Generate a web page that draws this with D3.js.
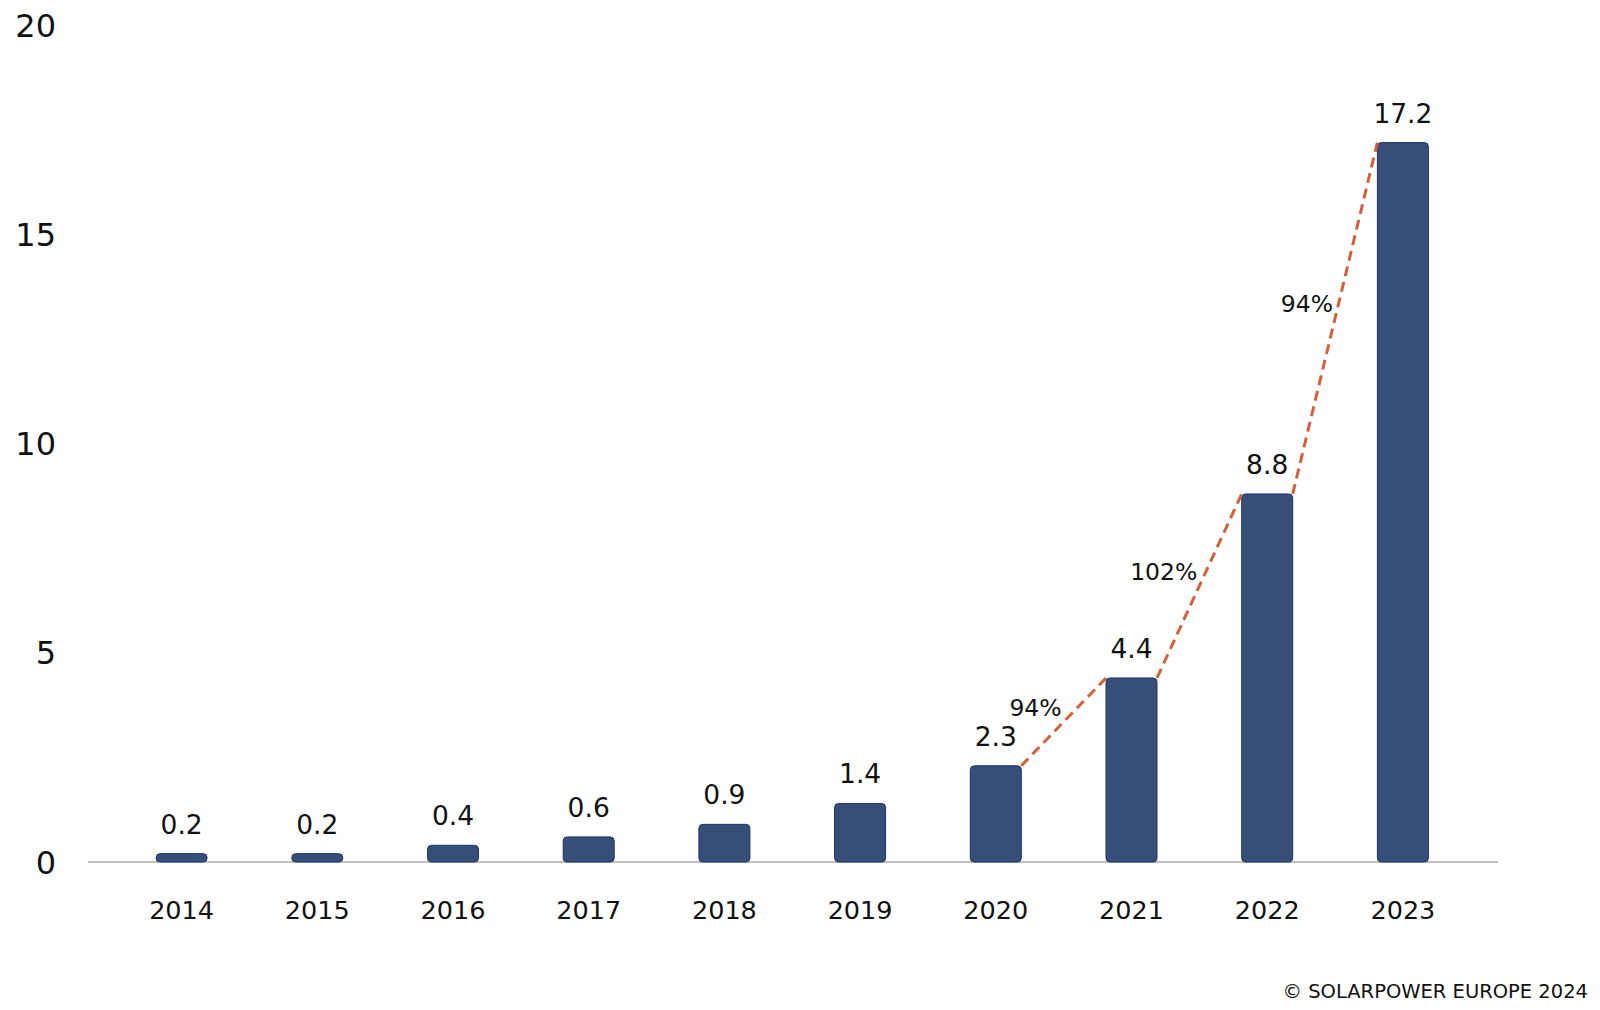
<!DOCTYPE html>
<html>
<head>
<meta charset="utf-8">
<script src="https://cdn.jsdelivr.net/npm/d3@7"></script>
<style>
  html, body { margin: 0; padding: 0; background: #fff; }
  svg { display: block; font-family: "DejaVu Sans", "Liberation Sans", Arial, sans-serif; }
</style>
</head>
<body>
<svg id="chart" width="1600" height="1010"></svg>
<script>
'use strict';
// data
const years = ['2014', '2015', '2016', '2017', '2018', '2019', '2020', '2021', '2022', '2023'];
const values = [0.2, 0.2, 0.4, 0.6, 0.9, 1.4, 2.3, 4.4, 8.8, 17.2];
const yTicks = [0, 5, 10, 15, 20];
const growthFrom = ['2020', '2021', '2022'];
const growthLabels = ['94%', '102%', '94%'];

const barColor = '#374f78';
const barStroke = '#1c3468';
const lineColor = '#d4603a';
const textColor = '#111';

const svg = d3.select('#chart');

const step = 135.7;
const x = d3.scaleBand()
  .domain(years)
  .range([181.6 - step / 2, 181.6 - step / 2 + step * years.length])
  .paddingInner(0.624)
  .paddingOuter(0.312);

const y = d3.scaleLinear()
  .domain([0, 20])
  .range([862, 25.5]);

// baseline
svg.append('line')
  .attr('x1', 88)
  .attr('x2', 1498)
  .attr('y1', y(0))
  .attr('y2', y(0))
  .attr('stroke', '#a9abb3')
  .attr('stroke-width', 1.5);

// y labels
svg.append('g')
  .selectAll('text')
  .data(yTicks)
  .join('text')
  .attr('x', 56)
  .attr('y', d => y(d))
  .attr('dy', '0.36em')
  .attr('text-anchor', 'end')
  .attr('font-size', 32)
  .attr('fill', textColor)
  .text(d => d);

// bars
svg.append('g')
  .selectAll('rect')
  .data(values)
  .join('rect')
  .attr('x', (d, i) => x(years[i]))
  .attr('y', d => y(d))
  .attr('width', x.bandwidth())
  .attr('height', d => y(0) - y(d))
  .attr('rx', 4)
  .attr('ry', 4)
  .attr('fill', barColor)
  .attr('stroke', barStroke)
  .attr('stroke-width', 1);

// value labels
svg.append('g')
  .selectAll('text')
  .data(values)
  .join('text')
  .attr('x', (d, i) => x(years[i]) + x.bandwidth() / 2)
  .attr('y', d => y(d) - 20)
  .attr('text-anchor', 'middle')
  .attr('font-size', 26.5)
  .attr('fill', textColor)
  .text(d => d.toFixed(1));

// x labels
svg.append('g')
  .selectAll('text')
  .data(years)
  .join('text')
  .attr('x', d => x(d) + x.bandwidth() / 2)
  .attr('y', 919)
  .attr('text-anchor', 'middle')
  .attr('font-size', 25.5)
  .attr('fill', textColor)
  .text(d => d);

// growth dashed lines
const segs = growthFrom.map((yr, i) => {
  const a = years.indexOf(yr);
  return {
    x1: x(years[a]) + x.bandwidth(),
    y1: y(values[a]),
    x2: x(years[a + 1]),
    y2: y(values[a + 1]),
    label: growthLabels[i]
  };
});

const g = svg.append('g');
g.selectAll('line')
  .data(segs)
  .join('line')
  .attr('x1', d => d.x1)
  .attr('y1', d => d.y1)
  .attr('x2', d => d.x2)
  .attr('y2', d => d.y2)
  .attr('stroke', lineColor)
  .attr('stroke-width', 3)
  .attr('stroke-dasharray', '10,6');

g.selectAll('text')
  .data(segs)
  .join('text')
  .attr('x', d => (d.x1 + d.x2) / 2 - 2)
  .attr('y', d => (d.y1 + d.y2) / 2 - 6)
  .attr('text-anchor', 'end')
  .attr('font-size', 23.5)
  .attr('fill', textColor)
  .text(d => d.label);

// source
svg.append('text')
  .attr('x', 1588)
  .attr('y', 998)
  .attr('text-anchor', 'end')
  .attr('font-size', 19.5)
  .attr('fill', textColor)
  .text('© SOLARPOWER EUROPE 2024');
</script>
</body>
</html>
